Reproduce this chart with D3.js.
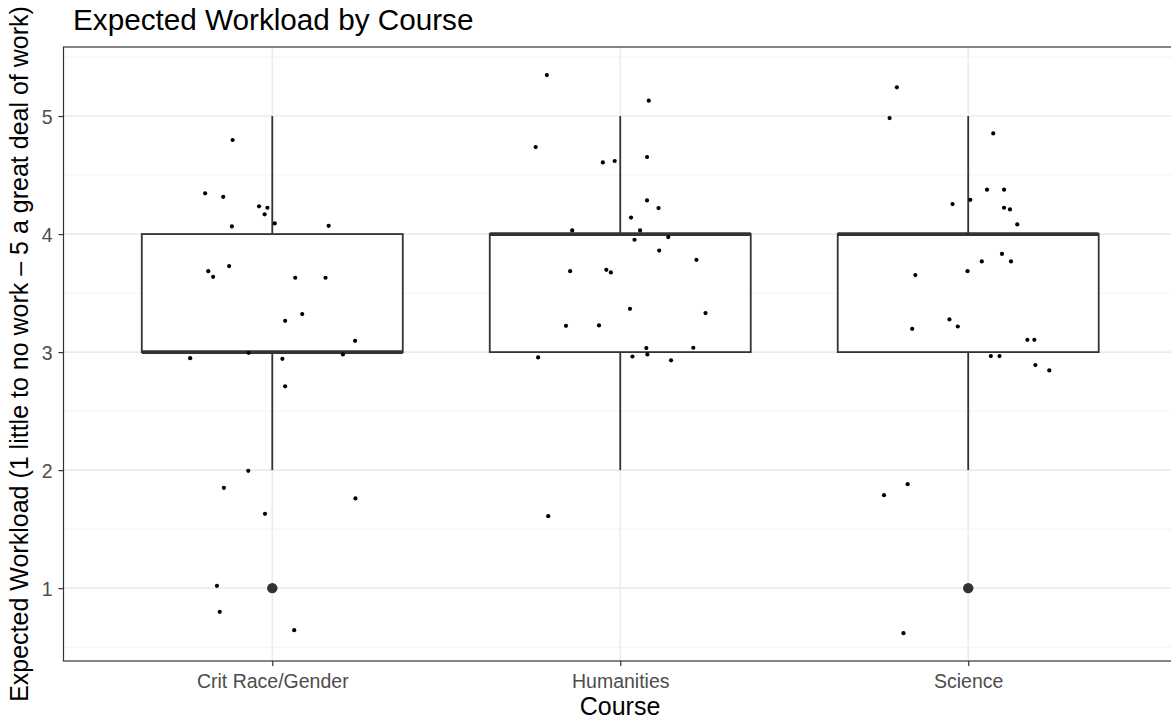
<!DOCTYPE html>
<html>
<head>
<meta charset="utf-8">
<script src="https://cdn.jsdelivr.net/npm/d3@7"></script>
<style>
  body { margin: 0; background: #fff; }
  svg { display: block; font-family: "Liberation Sans", Arial, sans-serif; }
</style>
</head>
<body>
<svg id="chart" width="1171" height="722"></svg>
<script>
// categories and box summaries
const courses = ["Crit Race/Gender", "Humanities", "Science"];
const whiskerLow = [2, 2, 2];
const q1 = [3, 3, 3];
const median = [3, 4, 4];
const q3 = [4, 4, 4];
const whiskerHigh = [5, 5, 5];
const outliers = [[1], [], [1]];

// jittered points: offset from category centre (in category widths) and jittered value
const critJitter = [-0.114, -0.193, -0.141, -0.038, -0.014, -0.022, 0.007, -0.116, 0.162, -0.124, -0.184, -0.170, 0.066, 0.153, 0.086, 0.037, 0.238, -0.068, -0.236, 0.029, 0.203, 0.037, -0.069, -0.139, 0.239, -0.021, -0.159, -0.151, 0.063];
const critValue  = [4.797, 4.345, 4.316, 4.235, 4.223, 4.167, 4.09, 4.065, 4.07, 3.729, 3.686, 3.638, 3.63, 3.63, 3.322, 3.265, 3.096, 2.994, 2.949, 2.943, 2.98, 2.71, 1.994, 1.85, 1.76, 1.63, 1.02, 0.80, 0.644];

const humJitter = [-0.211, 0.082, -0.243, -0.050, -0.016, 0.077, 0.077, 0.110, 0.031, -0.138, 0.057, 0.041, 0.138, 0.112, 0.219, -0.144, -0.040, -0.027, 0.028, 0.245, -0.156, -0.061, 0.075, 0.210, -0.236, 0.035, 0.078, 0.146, -0.207];
const humValue  = [5.347, 5.13, 4.737, 4.607, 4.619, 4.653, 4.285, 4.22, 4.14, 4.031, 4.031, 3.952, 3.975, 3.86, 3.782, 3.686, 3.697, 3.675, 3.367, 3.331, 3.223, 3.226, 3.034, 3.037, 2.955, 2.963, 2.98, 2.93, 1.61];

const sciJitter = [-0.205, -0.226, 0.072, 0.054, 0.103, -0.045, 0.006, 0.103, 0.120, 0.141, 0.097, 0.039, 0.123, -0.002, -0.152, -0.054, -0.030, -0.161, 0.170, 0.190, 0.065, 0.090, 0.193, 0.233, -0.174, -0.242, -0.186];
const sciValue  = [5.243, 4.983, 4.853, 4.376, 4.376, 4.254, 4.29, 4.223, 4.209, 4.082, 3.833, 3.768, 3.768, 3.686, 3.653, 3.277, 3.217, 3.197, 3.104, 3.104, 2.966, 2.966, 2.89, 2.845, 1.881, 1.788, 0.619];

const yTicks = [1, 2, 3, 4, 5];
const yMinor = [0.5, 1.5, 2.5, 3.5, 4.5, 5.5];

const jitters = [critJitter, humJitter, sciJitter];
const values = [critValue, humValue, sciValue];

const svg = d3.select("#chart");

// panel geometry (right edge runs past the window, as in the original)
const panel = { left: 63.5, top: 47, right: 1177, bottom: 661 };

const x = d3.scalePoint().domain(courses).range([panel.left, panel.right]).padding(0.6);
const step = x.step();
const y = d3.scaleLinear().domain([0.383, 5.585]).range([panel.bottom, panel.top]);

// grid
const grid = svg.append("g");
grid.selectAll("line.minor").data(yMinor).join("line")
  .attr("x1", panel.left).attr("x2", panel.right)
  .attr("y1", d => y(d)).attr("y2", d => y(d))
  .attr("stroke", "#f2f2f2").attr("stroke-width", 1);
grid.selectAll("line.major").data(yTicks).join("line")
  .attr("x1", panel.left).attr("x2", panel.right)
  .attr("y1", d => y(d)).attr("y2", d => y(d))
  .attr("stroke", "#ebebeb").attr("stroke-width", 1.6);
grid.selectAll("line.vmajor").data(courses).join("line")
  .attr("x1", d => x(d)).attr("x2", d => x(d))
  .attr("y1", panel.top).attr("y2", panel.bottom)
  .attr("stroke", "#ebebeb").attr("stroke-width", 1.6);

// boxplots
const boxW = step * 0.75;
const boxes = svg.append("g")
  .selectAll("g").data(courses).join("g")
  .attr("transform", d => `translate(${x(d)},0)`);

boxes.append("line")
  .attr("y1", (d, i) => y(whiskerHigh[i])).attr("y2", (d, i) => y(q3[i]))
  .attr("stroke", "#333").attr("stroke-width", 1.8);
boxes.append("line")
  .attr("y1", (d, i) => y(q1[i])).attr("y2", (d, i) => y(whiskerLow[i]))
  .attr("stroke", "#333").attr("stroke-width", 1.8);
boxes.append("rect")
  .attr("x", -boxW / 2).attr("width", boxW)
  .attr("y", (d, i) => y(q3[i])).attr("height", (d, i) => y(q1[i]) - y(q3[i]))
  .attr("fill", "#fff").attr("stroke", "#333").attr("stroke-width", 1.8);
boxes.append("line")
  .attr("x1", -boxW / 2).attr("x2", boxW / 2)
  .attr("y1", (d, i) => y(median[i])).attr("y2", (d, i) => y(median[i]))
  .attr("stroke", "#333").attr("stroke-width", 3.6);
boxes.selectAll("circle.out").data((d, i) => outliers[i]).join("circle")
  .attr("cy", v => y(v)).attr("r", 5.2).attr("fill", "#333");

// jittered points
const pts = courses.flatMap((c, i) => values[i].map((v, k) => ({ c, v, j: jitters[i][k] })));
svg.append("g").selectAll("circle").data(pts).join("circle")
  .attr("cx", d => x(d.c) + d.j * step)
  .attr("cy", d => y(d.v))
  .attr("r", 2.1).attr("fill", "#000");

// panel border
svg.append("rect")
  .attr("x", panel.left).attr("y", panel.top)
  .attr("width", panel.right - panel.left).attr("height", panel.bottom - panel.top)
  .attr("fill", "none").attr("stroke", "#333").attr("stroke-width", 1.2);

// axes
const yAxis = svg.append("g")
  .attr("transform", `translate(${panel.left},0)`)
  .call(d3.axisLeft(y).tickValues(yTicks).tickSize(5).tickPadding(6).tickFormat(d3.format("d")));
yAxis.select(".domain").remove();
yAxis.selectAll(".tick line").attr("stroke", "#333").attr("stroke-width", 1.2);
yAxis.selectAll(".tick text").attr("fill", "#4d4d4d").style("font-size", "19.5px").attr("dy", "0.36em");

const xAxis = svg.append("g")
  .attr("transform", `translate(0,${panel.bottom})`)
  .call(d3.axisBottom(x).tickSize(5).tickPadding(8));
xAxis.select(".domain").remove();
xAxis.selectAll(".tick line").attr("stroke", "#333").attr("stroke-width", 1.2);
xAxis.selectAll(".tick text").attr("fill", "#4d4d4d").style("font-size", "19.5px");

// titles
svg.append("text")
  .attr("x", 73).attr("y", 29.5)
  .style("font-size", "29.7px").attr("fill", "#000")
  .text("Expected Workload by Course");

svg.append("text")
  .attr("x", 620).attr("y", 715)
  .attr("text-anchor", "middle")
  .style("font-size", "25px").attr("fill", "#000")
  .text("Course");

svg.append("text")
  .attr("transform", `translate(28,${(panel.top + panel.bottom) / 2}) rotate(-90)`)
  .attr("text-anchor", "middle")
  .style("font-size", "25px").attr("fill", "#000")
  .text("Expected Workload (1 little to no work \u2013 5 a great deal of work)");
</script>
</body>
</html>
